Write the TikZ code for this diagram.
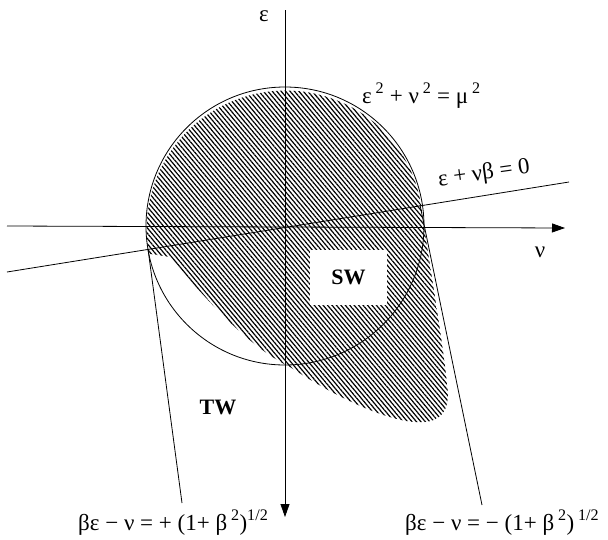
\documentclass[tikz,border=0pt]{standalone}
\usepackage{fontspec}
\setmainfont{Liberation Serif}
\usepackage{tikz}
\usetikzlibrary{arrows.meta, patterns.meta, positioning, calc}
\tikzset{
    axisline/.style={-{Triangle[length=13pt,width=9pt]}, line width=0.8pt},
    thinline/.style={line width=0.8pt},
    hatchregion/.style={pattern={Lines[angle=-50,distance=3.4pt,line width=1.2pt]}},
    eqlabel/.style={font=\fontsize{23}{25}\selectfont, inner sep=0pt},
    regionlabel/.style={font=\fontsize{22}{24}\selectfont\bfseries, inner sep=0pt}
}

\begin{document}
\begin{tikzpicture}[x=1pt, y=1pt]
\useasboundingbox (0,0) rectangle (608,-539);

\coordinate (O) at (285,-226);
\coordinate (epstop) at (285,-10);
\coordinate (epsend) at (285,-517);
\coordinate (nustart) at (7,-226);
\coordinate (nuend) at (565,-228);
\coordinate (slantA) at (7,-272);
\coordinate (slantB) at (569,-182);
\coordinate (tanLa) at (148,-249);
\coordinate (tanLb) at (182,-503);
\coordinate (tanRa) at (420,-205);
\coordinate (tanRb) at (482,-505);

\fill[hatchregion] (424,-226) -- (421,-205) arc[start angle=9, end angle=60, radius=135]
    arc[start angle=60, end angle=190, radius=139]
    -- (170,-257) .. controls (200,-292) and (245,-345) .. (290,-367)
    .. controls (340,-400) and (395,-425) .. (425,-422)
    .. controls (445,-420) and (450,-405) .. (447,-385)
    .. controls (444,-350) and (432,-280) .. (424,-226) -- cycle;

\node[fill=white, minimum width=77pt, minimum height=55pt, inner sep=0pt] (swbox) at (348.5,-277.5) {};
\node[regionlabel] (sw) at (swbox) {SW};
\node[regionlabel] (tw) at (218,-407) {TW};

\node[circle, draw, thinline, minimum size=278pt, inner sep=0pt] (disc) at (O) {};

\draw[thinline] (slantA) -- (slantB);
\draw[thinline] (tanLa) -- (tanLb);
\draw[thinline] (tanRa) -- (tanRb);
\draw[axisline] (nustart) -- (nuend);
\draw[axisline] (epstop) -- (epsend);

\node[eqlabel] (epslabel) at (264,-16) {ε};
\node[eqlabel] (nulabel) at (540,-252) {ν};
\node[eqlabel, anchor=base west] (circeq) at (362,-103) {ε\,\textsuperscript{2} + ν\,\textsuperscript{2} = μ\,\textsuperscript{2}};
\node[eqlabel, rotate=8] (lineeq) at (484,-174) {ε + νβ = 0};
\node[eqlabel, anchor=base west] (pluseq) at (78,-530) {βε − ν = + (1+ β\,\textsuperscript{2})\textsuperscript{1/2}};
\node[eqlabel, anchor=base west] (minuseq) at (405,-530) {βε − ν = − (1+ β\,\textsuperscript{2})\,\textsuperscript{1/2}};

\end{tikzpicture}
\end{document}
